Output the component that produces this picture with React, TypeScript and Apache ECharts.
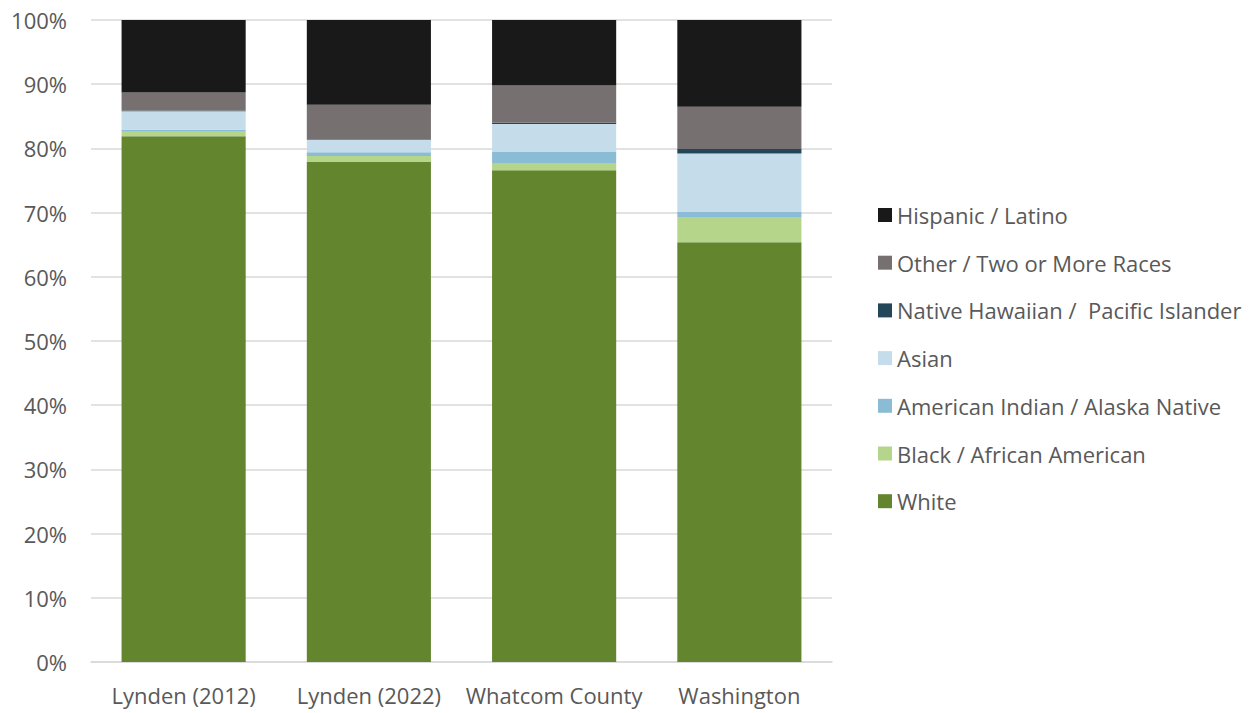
import React, { useEffect, useRef } from "react";
import * as echarts from "echarts";

const categories = ["Lynden (2012)", "Lynden (2022)", "Whatcom County", "Washington"];
const white = [81.9, 77.9, 76.6, 65.4];
const black = [0.7, 0.9, 1.0, 3.9];
const amIndian = [0.3, 0.6, 1.9, 0.8];
const asian = [2.9, 1.9, 4.3, 9.1];
const nativeHawaiian = [0.1, 0.1, 0.2, 0.7];
const other = [2.8, 5.4, 5.8, 6.6];
const hispanic = [11.3, 13.2, 10.2, 13.5];

const seriesDefs = [
  { name: "White", data: white, color: "#62852E" },
  { name: "Black / African American", data: black, color: "#B5D58A" },
  { name: "American Indian / Alaska Native", data: amIndian, color: "#8BBCD6" },
  { name: "Asian", data: asian, color: "#C5DDEA" },
  { name: "Native Hawaiian /  Pacific Islander", data: nativeHawaiian, color: "#234658" },
  { name: "Other / Two or More Races", data: other, color: "#767170" },
  { name: "Hispanic / Latino", data: hispanic, color: "#191919" },
];

const FONT = "'Open Sans', 'Noto Sans', sans-serif";
const FS = 22;

export default function App() {
  const ref = useRef<HTMLDivElement>(null);
  useEffect(() => {
    if (!ref.current) return;
    const chart = echarts.init(ref.current, null, { renderer: "svg" });
    chart.setOption({
      animation: false,
      textStyle: { fontFamily: FONT },
      grid: { left: 91, right: 426, top: 20, bottom: 51, containLabel: false },
      legend: {
        orient: "vertical",
        left: 873,
        top: 199,
        itemWidth: 14,
        itemHeight: 14,
        itemGap: 25.7,
        icon: "rect",
        data: seriesDefs.map((s) => s.name).reverse(),
        textStyle: { color: "#595959", fontSize: FS, fontFamily: FONT, lineHeight: 22 },
      },
      xAxis: {
        type: "category",
        data: categories,
        axisLine: { lineStyle: { color: "#d9d9d9", width: 1.5 } },
        axisTick: { show: false },
        axisLabel: {
          color: "#595959",
          fontSize: FS,
          margin: 22,
          fontFamily: FONT,
          interval: 0,
          hideOverlap: false,
        },
      },
      yAxis: {
        type: "value",
        min: 0,
        max: 100,
        interval: 10,
        axisLine: { show: false },
        axisTick: { show: false },
        splitLine: { lineStyle: { color: "#d9d9d9", width: 1.5 } },
        axisLabel: { color: "#595959", fontSize: FS, margin: 24, formatter: "{value}%", fontFamily: FONT },
      },
      series: seriesDefs.map((s) => ({
        name: s.name,
        type: "bar",
        stack: "total",
        barWidth: "67%",
        data: s.data,
        itemStyle: { color: s.color },
      })),
    });
    return () => chart.dispose();
  }, []);
  return (
    <div
      ref={ref}
      style={{ position: "absolute", left: 0, top: 0, width: 1258, height: 713 }}
    />
  );
}
